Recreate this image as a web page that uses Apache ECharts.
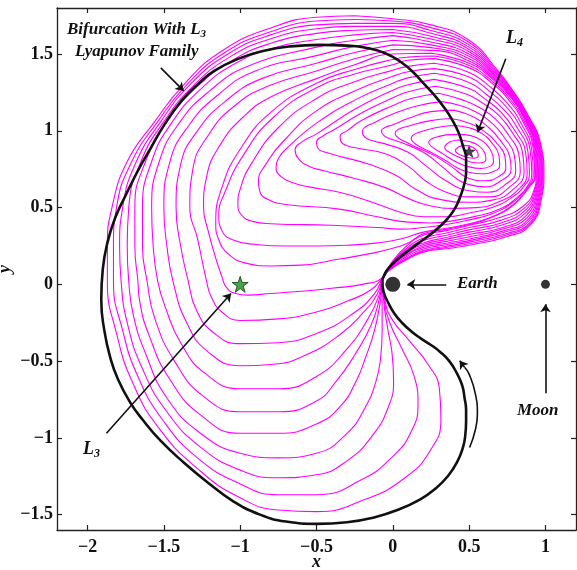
<!DOCTYPE html>
<html><head><meta charset="utf-8">
<script src="https://cdn.jsdelivr.net/npm/echarts@6/dist/echarts.min.js"></script>
<style>html,body{margin:0;padding:0;background:#fff}#chart{width:577px;height:570px}</style>
</head><body><div id="chart"></div>
<script>
// Tick positions
const xTicks = [-2, -1.5, -1, -0.5, 0, 0.5, 1];
const yTicks = [-1.5, -1, -0.5, 0, 0.5, 1, 1.5];

// Primaries and libration points (Earth-Moon rotating frame)
const earthPos = [0, 0];
const moonPos = [1, 0];
const l3Pos = [-1, 0];
const l4Pos = [0.5, 0.866];

// Orbit family around L4: small loops (tips moving left as the family grows)
const orbitT01 = [[0.41,0.87],[0.43,0.85],[0.48,0.83],[0.53,0.822],[0.56,0.84],[0.55,0.87],[0.52,0.895],[0.47,0.905],[0.43,0.895],[0.41,0.87]];
const orbitT02 = [[0.34,0.89],[0.37,0.86],[0.43,0.83],[0.5,0.80],[0.56,0.79],[0.61,0.815],[0.6,0.86],[0.56,0.905],[0.5,0.93],[0.43,0.94],[0.37,0.925],[0.34,0.89]];
const orbitT03 = [[0.235,0.925],[0.25,0.9],[0.32,0.855],[0.41,0.80],[0.5,0.765],[0.58,0.755],[0.64,0.77],[0.66,0.80],[0.65,0.855],[0.61,0.915],[0.55,0.955],[0.47,0.975],[0.38,0.975],[0.29,0.96],[0.25,0.945],[0.235,0.925]];
const orbitT04 = [[0.12,0.95],[0.135,0.925],[0.18,0.895],[0.24,0.865],[0.34,0.81],[0.43,0.755],[0.5,0.73],[0.58,0.72],[0.66,0.735],[0.70,0.775],[0.695,0.84],[0.65,0.92],[0.58,0.985],[0.5,1.02],[0.4,1.035],[0.28,1.02],[0.17,0.99],[0.13,0.97],[0.12,0.95]];
const orbitT05 = [[0.015,0.985],[0.035,0.955],[0.09,0.925],[0.14,0.9],[0.27,0.84],[0.38,0.77],[0.5,0.69],[0.6,0.675],[0.69,0.70],[0.74,0.76],[0.735,0.83],[0.68,0.92],[0.6,0.995],[0.5,1.05],[0.38,1.08],[0.24,1.065],[0.1,1.03],[0.035,1.008],[0.015,0.985]];
const orbitT06 = [[-0.075,1.0],[-0.06,0.97],[-0.01,0.945],[0.05,0.925],[0.2,0.86],[0.33,0.76],[0.43,0.68],[0.5,0.65],[0.6,0.635],[0.7,0.67],[0.775,0.75],[0.765,0.835],[0.71,0.93],[0.63,1.02],[0.53,1.09],[0.4,1.135],[0.25,1.125],[0.1,1.08],[0.0,1.04],[-0.055,1.02],[-0.075,1.0]];
const orbitT07 = [[-0.2,0.995],[-0.185,0.96],[-0.13,0.935],[-0.05,0.915],[0.1,0.86],[0.22,0.77],[0.34,0.68],[0.5,0.61],[0.62,0.6],[0.73,0.645],[0.805,0.74],[0.795,0.845],[0.735,0.95],[0.65,1.05],[0.55,1.12],[0.44,1.165],[0.32,1.19],[0.15,1.16],[0.0,1.11],[-0.13,1.05],[-0.18,1.025],[-0.2,0.995]];
const orbitT08 = [[-0.345,0.965],[-0.34,0.93],[-0.29,0.9],[-0.22,0.885],[-0.05,0.85],[0.1,0.77],[0.22,0.67],[0.35,0.6],[0.5,0.57],[0.64,0.57],[0.76,0.63],[0.835,0.735],[0.825,0.85],[0.76,0.97],[0.675,1.075],[0.57,1.15],[0.46,1.2],[0.3,1.245],[0.12,1.21],[0.0,1.165],[-0.2,1.07],[-0.3,1.0],[-0.345,0.965]];
const orbitT09 = [[-0.5,0.925],[-0.49,0.885],[-0.44,0.86],[-0.35,0.835],[-0.15,0.78],[0.02,0.71],[0.15,0.62],[0.3,0.555],[0.5,0.535],[0.66,0.55],[0.79,0.62],[0.86,0.73],[0.85,0.855],[0.785,0.985],[0.695,1.1],[0.59,1.18],[0.48,1.24],[0.28,1.29],[0.1,1.255],[0.0,1.215],[-0.2,1.12],[-0.38,1.01],[-0.46,0.965],[-0.5,0.925]];
const orbitT10 = [[-0.64,0.875],[-0.62,0.82],[-0.55,0.77],[-0.45,0.74],[-0.25,0.69],[-0.05,0.63],[0.1,0.56],[0.25,0.51],[0.4,0.495],[0.55,0.5],[0.7,0.54],[0.82,0.615],[0.88,0.725],[0.87,0.86],[0.8,1.0],[0.71,1.12],[0.6,1.21],[0.5,1.275],[0.27,1.335],[0.1,1.30],[0.0,1.265],[-0.25,1.14],[-0.5,0.98],[-0.6,0.925],[-0.64,0.875]];
const orbitT11 = [[-0.765,0.76],[-0.73,0.7],[-0.65,0.66],[-0.55,0.635],[-0.35,0.6],[-0.15,0.54],[0.05,0.47],[0.2,0.44],[0.35,0.44],[0.5,0.465],[0.65,0.5],[0.77,0.56],[0.86,0.64],[0.895,0.72],[0.885,0.865],[0.815,1.02],[0.725,1.14],[0.615,1.235],[0.5,1.315],[0.27,1.375],[0.1,1.345],[0.0,1.31],[-0.25,1.2],[-0.5,1.05],[-0.68,0.9],[-0.75,0.82],[-0.765,0.76]];
const orbitT12 = [[-0.88,0.67],[-0.87,0.6],[-0.81,0.55],[-0.7,0.52],[-0.35,0.49],[-0.1,0.44],[0.1,0.405],[0.25,0.40],[0.4,0.415],[0.55,0.445],[0.7,0.49],[0.82,0.57],[0.885,0.645],[0.91,0.72],[0.9,0.87],[0.83,1.035],[0.74,1.16],[0.63,1.26],[0.5,1.35],[0.27,1.405],[0.1,1.385],[0.0,1.355],[-0.25,1.26],[-0.5,1.13],[-0.7,0.95],[-0.84,0.77],[-0.88,0.67]];
const orbitT13 = [[-1.015,0.52],[-0.99,0.45],[-0.92,0.41],[-0.8,0.395],[-0.4,0.385],[-0.1,0.37],[0.05,0.36],[0.2,0.37],[0.35,0.39],[0.5,0.42],[0.65,0.46],[0.78,0.53],[0.87,0.62],[0.92,0.715],[0.91,0.875],[0.84,1.05],[0.75,1.18],[0.64,1.285],[0.5,1.38],[0.27,1.44],[0.1,1.42],[0.0,1.395],[-0.25,1.32],[-0.5,1.21],[-0.75,1.02],[-0.93,0.78],[-1.0,0.62],[-1.015,0.52]];
const orbitT14 = [[-1.14,0.45],[-1.12,0.35],[-1.05,0.29],[-0.9,0.26],[-0.7,0.25],[-0.5,0.25],[-0.3,0.255],[-0.1,0.27],[0.05,0.295],[0.2,0.34],[0.35,0.365],[0.5,0.395],[0.65,0.44],[0.79,0.52],[0.88,0.62],[0.93,0.715],[0.92,0.88],[0.85,1.065],[0.76,1.2],[0.65,1.31],[0.5,1.41],[0.27,1.47],[0.1,1.46],[0.0,1.43],[-0.25,1.37],[-0.5,1.28],[-0.78,1.09],[-0.98,0.84],[-1.1,0.6],[-1.14,0.45]];
const orbitT15 = [[-1.16,0.4],[-1.14,0.29],[-1.08,0.2],[-0.97,0.14],[-0.8,0.12],[-0.6,0.125],[-0.35,0.165],[-0.15,0.2],[0.0,0.235],[0.1,0.27],[0.2,0.33],[0.35,0.358],[0.5,0.39],[0.65,0.437],[0.79,0.517],[0.88,0.617],[0.935,0.715],[0.925,0.885],[0.855,1.072],[0.765,1.21],[0.655,1.32],[0.5,1.425],[0.27,1.487],[0.1,1.48],[0.0,1.465],[-0.25,1.40],[-0.5,1.31],[-0.8,1.12],[-1.0,0.88],[-1.12,0.63],[-1.16,0.4]];

// Larger members that wrap past L3 and dip close to the Earth
const orbitL01 = [[-0.065,0.045],[-0.2,0.0],[-0.4,-0.025],[-0.6,-0.045],[-0.8,-0.06],[-0.95,-0.07],[-1.03,-0.06],[-1.09,-0.02],[-1.12,0.05],[-1.16,0.17],[-1.21,0.35],[-1.24,0.5],[-1.22,0.7],[-1.13,0.91],[-0.98,1.09],[-0.8,1.22],[-0.5,1.34],[-0.25,1.43],[0.0,1.50],[0.25,1.505],[0.5,1.44],[0.66,1.33],[0.77,1.22],[0.86,1.08],[0.93,0.89],[0.94,0.715],[0.925,0.615],[0.855,0.51],[0.7,0.435],[0.5,0.385],[0.35,0.35],[0.2,0.32],[0.09,0.25],[-0.01,0.14],[-0.065,0.045]];
const orbitL02 = [[-0.065,0.045],[-0.15,-0.04],[-0.3,-0.11],[-0.5,-0.18],[-0.75,-0.225],[-1.0,-0.235],[-1.12,-0.18],[-1.19,-0.08],[-1.22,0.02],[-1.28,0.3],[-1.33,0.5],[-1.31,0.75],[-1.21,0.97],[-1.04,1.16],[-0.82,1.29],[-0.5,1.39],[-0.25,1.47],[0.0,1.53],[0.25,1.524],[0.5,1.455],[0.663,1.336],[0.771,1.225],[0.861,1.085],[0.934,0.892],[0.945,0.715],[0.93,0.61],[0.86,0.495],[0.7,0.415],[0.5,0.37],[0.35,0.335],[0.2,0.30],[0.09,0.235],[-0.01,0.135],[-0.065,0.045]];
const orbitL03 = [[-0.065,0.045],[-0.12,-0.06],[-0.26,-0.19],[-0.5,-0.32],[-0.75,-0.38],[-1.0,-0.386],[-1.18,-0.31],[-1.29,-0.16],[-1.34,0.02],[-1.39,0.25],[-1.42,0.5],[-1.39,0.78],[-1.28,1.0],[-1.1,1.19],[-0.86,1.34],[-0.5,1.44],[-0.25,1.51],[0.0,1.56],[0.25,1.542],[0.5,1.47],[0.666,1.342],[0.772,1.23],[0.862,1.09],[0.938,0.894],[0.95,0.715],[0.935,0.605],[0.865,0.48],[0.71,0.40],[0.5,0.355],[0.35,0.32],[0.2,0.285],[0.09,0.225],[-0.015,0.125],[-0.065,0.045]];
const orbitL04 = [[-0.065,0.04],[-0.1,-0.06],[-0.19,-0.18],[-0.35,-0.33],[-0.57,-0.46],[-0.78,-0.52],[-1.0,-0.53],[-1.21,-0.44],[-1.35,-0.25],[-1.44,0.02],[-1.48,0.25],[-1.5,0.5],[-1.46,0.8],[-1.34,1.03],[-1.15,1.23],[-0.9,1.39],[-0.5,1.49],[-0.25,1.55],[0.0,1.59],[0.25,1.56],[0.5,1.485],[0.669,1.348],[0.773,1.235],[0.863,1.095],[0.942,0.896],[0.955,0.715],[0.94,0.6],[0.87,0.465],[0.71,0.385],[0.5,0.34],[0.35,0.305],[0.2,0.27],[0.09,0.215],[-0.015,0.12],[-0.065,0.04]];
const orbitL05 = [[-0.065,0.04],[-0.09,-0.07],[-0.16,-0.22],[-0.3,-0.42],[-0.5,-0.6],[-0.75,-0.68],[-1.0,-0.68],[-1.23,-0.58],[-1.39,-0.38],[-1.49,-0.15],[-1.54,0.02],[-1.57,0.25],[-1.58,0.5],[-1.53,0.8],[-1.40,1.05],[-1.2,1.26],[-0.95,1.42],[-0.5,1.545],[-0.25,1.59],[0.0,1.62],[0.25,1.579],[0.5,1.50],[0.672,1.354],[0.774,1.24],[0.864,1.10],[0.946,0.898],[0.96,0.715],[0.945,0.595],[0.875,0.45],[0.72,0.37],[0.5,0.325],[0.35,0.293],[0.2,0.26],[0.09,0.205],[-0.02,0.115],[-0.065,0.04]];
const orbitL06 = [[-0.065,0.04],[-0.085,-0.08],[-0.14,-0.26],[-0.25,-0.46],[-0.37,-0.63],[-0.5,-0.76],[-0.75,-0.83],[-1.0,-0.83],[-1.24,-0.73],[-1.43,-0.5],[-1.56,-0.22],[-1.61,0.02],[-1.64,0.25],[-1.64,0.5],[-1.58,0.8],[-1.45,1.05],[-1.26,1.27],[-1.03,1.44],[-0.78,1.54],[-0.5,1.595],[-0.25,1.625],[0.0,1.64],[0.25,1.598],[0.5,1.515],[0.675,1.36],[0.775,1.245],[0.865,1.105],[0.95,0.90],[0.965,0.715],[0.95,0.59],[0.88,0.435],[0.72,0.36],[0.5,0.31],[0.35,0.28],[0.2,0.25],[0.09,0.195],[-0.02,0.11],[-0.065,0.04]];
const orbitL07 = [[-0.065,0.035],[-0.08,-0.1],[-0.12,-0.3],[-0.18,-0.48],[-0.24,-0.63],[-0.34,-0.79],[-0.5,-0.91],[-0.75,-0.97],[-1.0,-0.97],[-1.26,-0.85],[-1.46,-0.62],[-1.59,-0.35],[-1.66,-0.1],[-1.67,0.02],[-1.69,0.25],[-1.69,0.5],[-1.62,0.8],[-1.48,1.06],[-1.29,1.28],[-1.05,1.46],[-0.8,1.57],[-0.5,1.635],[-0.25,1.655],[0.0,1.66],[0.25,1.616],[0.5,1.53],[0.678,1.366],[0.776,1.25],[0.866,1.11],[0.954,0.902],[0.97,0.715],[0.955,0.585],[0.885,0.42],[0.73,0.35],[0.5,0.295],[0.35,0.268],[0.2,0.24],[0.09,0.19],[-0.02,0.105],[-0.065,0.035]];
const orbitL08 = [[-0.065,0.035],[-0.07,-0.1],[-0.07,-0.3],[-0.08,-0.48],[-0.11,-0.63],[-0.18,-0.8],[-0.3,-0.97],[-0.5,-1.1],[-0.75,-1.13],[-1.0,-1.10],[-1.26,-0.97],[-1.48,-0.74],[-1.62,-0.45],[-1.7,-0.2],[-1.73,0.02],[-1.74,0.25],[-1.73,0.5],[-1.65,0.8],[-1.50,1.06],[-1.31,1.29],[-1.07,1.48],[-0.8,1.6],[-0.5,1.665],[-0.25,1.68],[0.0,1.68],[0.25,1.635],[0.5,1.545],[0.681,1.372],[0.777,1.255],[0.867,1.115],[0.958,0.904],[0.975,0.715],[0.96,0.58],[0.89,0.41],[0.73,0.34],[0.5,0.285],[0.35,0.258],[0.2,0.23],[0.09,0.18],[-0.025,0.1],[-0.065,0.035]];
const orbitL09 = [[-0.065,0.035],[-0.06,-0.1],[-0.035,-0.28],[-0.005,-0.45],[0.005,-0.63],[-0.03,-0.8],[-0.13,-0.98],[-0.3,-1.15],[-0.5,-1.24],[-0.75,-1.26],[-1.0,-1.21],[-1.26,-1.06],[-1.48,-0.83],[-1.64,-0.55],[-1.74,-0.25],[-1.78,0.02],[-1.79,0.25],[-1.77,0.5],[-1.68,0.8],[-1.52,1.06],[-1.33,1.3],[-1.08,1.5],[-0.8,1.625],[-0.5,1.69],[-0.25,1.70],[0.0,1.70],[0.25,1.653],[0.5,1.56],[0.684,1.378],[0.778,1.26],[0.868,1.12],[0.962,0.906],[0.98,0.715],[0.965,0.575],[0.895,0.40],[0.74,0.33],[0.5,0.275],[0.35,0.248],[0.2,0.22],[0.09,0.17],[-0.025,0.095],[-0.065,0.035]];
const orbitL10 = [[-0.065,0.03],[-0.057,-0.1],[-0.02,-0.25],[0.06,-0.42],[0.14,-0.6],[0.165,-0.78],[0.12,-0.96],[0.0,-1.12],[-0.2,-1.27],[-0.5,-1.37],[-0.75,-1.37],[-1.0,-1.30],[-1.28,-1.13],[-1.51,-0.88],[-1.67,-0.6],[-1.77,-0.3],[-1.83,0.02],[-1.83,0.25],[-1.81,0.5],[-1.71,0.8],[-1.54,1.06],[-1.35,1.3],[-1.1,1.51],[-0.8,1.645],[-0.5,1.715],[-0.25,1.725],[0.0,1.715],[0.25,1.672],[0.5,1.575],[0.687,1.384],[0.779,1.265],[0.869,1.125],[0.966,0.908],[0.985,0.715],[0.97,0.57],[0.9,0.395],[0.74,0.32],[0.5,0.265],[0.35,0.24],[0.2,0.215],[0.09,0.165],[-0.03,0.09],[-0.065,0.03]];
const orbitL11 = [[-0.065,0.03],[-0.052,-0.1],[-0.01,-0.22],[0.11,-0.37],[0.23,-0.52],[0.305,-0.68],[0.315,-0.88],[0.24,-1.09],[0.08,-1.26],[-0.18,-1.4],[-0.5,-1.48],[-0.75,-1.47],[-1.0,-1.39],[-1.28,-1.2],[-1.53,-0.94],[-1.7,-0.65],[-1.81,-0.32],[-1.87,0.02],[-1.87,0.25],[-1.84,0.5],[-1.74,0.8],[-1.56,1.06],[-1.37,1.3],[-1.12,1.52],[-0.8,1.67],[-0.5,1.74],[-0.25,1.75],[0.0,1.73],[0.25,1.69],[0.5,1.59],[0.69,1.39],[0.78,1.27],[0.87,1.13],[0.97,0.91],[0.99,0.715],[0.975,0.565],[0.905,0.39],[0.745,0.31],[0.5,0.255],[0.35,0.232],[0.2,0.21],[0.09,0.16],[-0.03,0.085],[-0.065,0.03]];

// Orbit where the family bifurcates with the L3 Lyapunov family
const bifurcationOrbit = [[-0.07,0.02],[-0.06,-0.05],[-0.03,-0.12],[0.01,-0.19],[0.06,-0.25],[0.12,-0.305],[0.18,-0.35],[0.25,-0.395],[0.31,-0.44],[0.37,-0.5],[0.42,-0.58],[0.455,-0.66],[0.47,-0.74],[0.48,-0.82],[0.48,-0.89],[0.475,-0.98],[0.46,-1.06],[0.42,-1.16],[0.36,-1.25],[0.28,-1.33],[0.18,-1.40],[0.03,-1.47],[-0.13,-1.52],[-0.3,-1.55],[-0.5,-1.56],[-0.7,-1.545],[-0.87,-1.50],[-1.05,-1.41],[-1.2,-1.3],[-1.37,-1.16],[-1.52,-1.02],[-1.64,-0.88],[-1.72,-0.77],[-1.8,-0.62],[-1.85,-0.48],[-1.89,-0.3],[-1.91,-0.1],[-1.9,0.1],[-1.87,0.27],[-1.82,0.43],[-1.75,0.58],[-1.67,0.74],[-1.59,0.88],[-1.49,1.05],[-1.38,1.2],[-1.27,1.31],[-1.17,1.39],[-1.01,1.47],[-0.85,1.52],[-0.67,1.55],[-0.48,1.56],[-0.3,1.555],[-0.17,1.54],[-0.05,1.505],[0.05,1.45],[0.13,1.385],[0.2,1.31],[0.27,1.235],[0.33,1.16],[0.39,1.07],[0.43,0.99],[0.46,0.9],[0.48,0.82],[0.48,0.73],[0.47,0.66],[0.445,0.58],[0.41,0.5],[0.36,0.43],[0.3,0.37],[0.24,0.32],[0.17,0.27],[0.11,0.225],[0.05,0.18],[0.0,0.135],[-0.04,0.09],[-0.06,0.05],[-0.07,0.02]];

const familyOrbits = [orbitT01, orbitT02, orbitT03, orbitT04, orbitT05, orbitT06, orbitT07,
  orbitT08, orbitT09, orbitT10, orbitT11, orbitT12, orbitT13, orbitT14, orbitT15,
  orbitL01, orbitL02, orbitL03, orbitL04, orbitL05, orbitL06, orbitL07,
  orbitL08, orbitL09, orbitL10, orbitL11];

// Annotation arrows (data coordinates)
const arrowBifurcation = [[-1.52, 1.41], [-1.37, 1.26]];
const arrowL4 = [[0.74, 1.47], [0.555, 0.99]];
const arrowL3 = [[-1.876, -0.97], [-1.06, -0.06]];
const arrowEarth = [[0.35, 0.0], [0.095, 0.0]];
const arrowMoon = [[1.0, -0.71], [1.0, -0.13]];
const motionArc = [[0.503, -1.063], [0.54, -0.95], [0.554, -0.845], [0.54, -0.71], [0.5, -0.585], [0.47, -0.54]];
const motionHead = [[0.47, -0.54], [0.438, -0.497]];

const SERIF = '"Liberation Serif", "Times New Roman", serif';
const INK = '#111';
const starPath = 'path://M50,2 L61.8,37.6 L99,37.6 L69,59.6 L80.4,95 L50,73 L19.6,95 L31,59.6 L1,37.6 L38.2,37.6 Z';
const fmt = v => String(v).replace('-', '\u2212');

// A closed orbit is drawn starting from its highest sample, where the path runs
// nearly horizontally, so the joint of the smoothed loop does not show.
function asLoop(pts) {
  const open = pts.slice(0, -1);
  let k = 0;
  open.forEach((p, i) => { if (p[1] > open[k][1]) k = i; });
  const rotated = open.slice(k).concat(open.slice(0, k));
  return rotated.concat([rotated[0]]);
}

const axisCommon = {
  type: 'value',
  axisLine: { show: true, onZero: false, lineStyle: { color: '#222', width: 1.3 } },
  splitLine: { show: false }
};

const chart = echarts.init(document.getElementById('chart'), null, { renderer: 'canvas' });

const orbitSeries = familyOrbits.map(d => ({
  type: 'line', data: asLoop(d), smooth: 0.5, showSymbol: false, silent: true, z: 2,
  lineStyle: { color: '#ff00ff', width: 1.1 }
}));

function arrowSeries(coords) {
  return {
    type: 'lines', coordinateSystem: 'cartesian2d', z: 6, silent: true,
    symbol: ['none', 'arrow'], symbolSize: 8,
    lineStyle: { color: INK, width: 1.6, opacity: 1 },
    data: [{ coords: coords }]
  };
}

function subLabel(main, sub, left, top, size) {
  return {
    type: 'text', left: left, top: top, z: 10,
    style: {
      text: '{a|' + main + '}{b|' + sub + '}',
      rich: {
        a: { fontFamily: SERIF, fontStyle: 'italic', fontWeight: 'bold', fontSize: size, fill: INK, lineHeight: size + 3 },
        b: { fontFamily: SERIF, fontStyle: 'italic', fontWeight: 'bold', fontSize: Math.round(size * 0.65), fill: INK, lineHeight: 8, verticalAlign: 'bottom' }
      }
    }
  };
}

function plainLabel(text, left, top, size) {
  return {
    type: 'text', left: left, top: top, z: 10,
    style: { text: text, fontFamily: SERIF, fontStyle: 'italic', fontWeight: 'bold', fontSize: size, fill: INK }
  };
}

chart.setOption({
  animation: false,
  backgroundColor: '#fff',
  grid: { left: 57, right: 1, top: 8, bottom: 40, containLabel: false, outerBoundsMode: 'none' },
  xAxis: [
    Object.assign({}, axisCommon, {
      min: -2.2, max: 1.2, position: 'bottom',
      axisTick: { show: true, inside: true, length: 5, customValues: xTicks, lineStyle: { color: '#222', width: 1.2 } },
      axisLabel: { show: true, customValues: xTicks, formatter: fmt, margin: 8,
        fontFamily: SERIF, fontWeight: 'bold', fontSize: 18, color: INK },
      name: 'x', nameLocation: 'middle', nameGap: 23, nameMoveOverlap: false,
      nameTextStyle: { fontFamily: SERIF, fontStyle: 'italic', fontWeight: 'bold', fontSize: 18, color: INK }
    }),
    Object.assign({}, axisCommon, {
      min: -2.2, max: 1.2, position: 'top',
      axisTick: { show: true, inside: true, length: 5, customValues: xTicks, lineStyle: { color: '#222', width: 1.2 } },
      axisLabel: { show: false }
    })
  ],
  yAxis: [
    Object.assign({}, axisCommon, {
      min: -1.6, max: 1.8, position: 'left',
      axisTick: { show: true, inside: true, length: 5, customValues: yTicks, lineStyle: { color: '#222', width: 1.2 } },
      axisLabel: { show: true, customValues: yTicks, formatter: fmt, margin: 4,
        fontFamily: SERIF, fontWeight: 'bold', fontSize: 18, color: INK },
      name: 'y', nameLocation: 'middle', nameGap: 43, nameRotate: 90, nameMoveOverlap: false,
      nameTextStyle: { fontFamily: SERIF, fontStyle: 'italic', fontWeight: 'bold', fontSize: 18, color: INK }
    }),
    Object.assign({}, axisCommon, {
      min: -1.6, max: 1.8, position: 'right',
      axisTick: { show: true, inside: true, length: 5, customValues: yTicks, lineStyle: { color: '#222', width: 1.2 } },
      axisLabel: { show: false }
    })
  ],
  series: [
    { type: 'scatter', data: [l4Pos], symbol: starPath, symbolSize: 12, z: 1, silent: true,
      itemStyle: { color: '#2a1030', borderColor: '#000', borderWidth: 0.6 } }
  ].concat(orbitSeries).concat([
    { type: 'line', data: asLoop(bifurcationOrbit), smooth: 0.5, showSymbol: false, silent: true, z: 3,
      lineStyle: { color: '#111', width: 2.6 } },
    { type: 'scatter', data: [earthPos], symbol: 'circle', symbolSize: 15, z: 5, silent: true,
      itemStyle: { color: '#000' } },
    { type: 'scatter', data: [moonPos], symbol: 'circle', symbolSize: 9, z: 5, silent: true,
      itemStyle: { color: '#000' } },
    { type: 'scatter', data: [l3Pos], symbol: starPath, symbolSize: 16, z: 5, silent: true,
      itemStyle: { color: '#1f8a1f', borderColor: '#0b3d0b', borderWidth: 1 } },
    { type: 'line', data: motionArc, smooth: 0.5, showSymbol: false, silent: true, z: 6,
      lineStyle: { color: INK, width: 1.6 } },
    arrowSeries(motionHead),
    arrowSeries(arrowBifurcation),
    arrowSeries(arrowL4),
    arrowSeries(arrowL3),
    arrowSeries(arrowEarth),
    arrowSeries(arrowMoon)
  ]),
  graphic: [
    subLabel('Bifurcation With L', '3', 67, 21, 17),
    plainLabel('Lyapunov Family', 75, 43, 17),
    subLabel('L', '4', 506, 29, 18),
    subLabel('L', '3', 83, 440, 18),
    plainLabel('Earth', 457, 275, 17),
    plainLabel('Moon', 517, 402, 17)
  ]
});
</script>
</body></html>
